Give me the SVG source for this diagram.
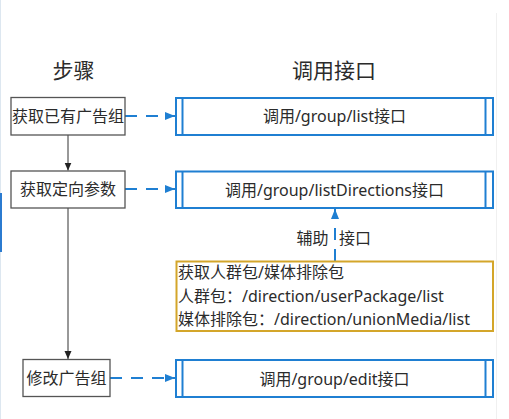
<svg xmlns="http://www.w3.org/2000/svg" width="509" height="419" viewBox="0 0 509 419">
<style>
text{font-family:"Noto Sans","Noto Sans CJK SC",sans-serif;fill:#2b2b2b;dominant-baseline:central}
.t{font-size:21px;text-anchor:middle}
.s{font-size:16px;text-anchor:middle}
.g{font-size:16px}
.step{fill:#fff;stroke:#555;stroke-width:1.3}
.api{fill:#fff;stroke:#1f7fd2;stroke-width:2}
.sub{stroke:#1f7fd2;stroke-width:2}
.aux{fill:#fff;stroke:#d4a62a;stroke-width:2}
.dash{stroke:#1f7fd2;stroke-width:2;stroke-dasharray:12 9;fill:none}
.solid{stroke:#333;stroke-width:1;fill:none}
</style>
<defs>
<marker id="ab" markerWidth="10" markerHeight="8" refX="10" refY="4" orient="auto" markerUnits="userSpaceOnUse"><path d="M0,0 L10,4 L0,8 Z" fill="#1f7fd2"/></marker>
<marker id="ak" markerWidth="8" markerHeight="8" refX="8" refY="4" orient="auto" markerUnits="userSpaceOnUse"><path d="M0,0.5 L8,4 L0,7.5 Z" fill="#222"/></marker>
</defs>
<rect width="509" height="419" fill="#fff"/>
<line x1="0.5" y1="0" x2="0.5" y2="419" stroke="#dde7f0" stroke-width="1"/>
<rect x="0" y="193" width="2" height="59" fill="#2b7bd0"/>
<line x1="496.5" y1="13" x2="496.5" y2="419" stroke="#f0f0f0" stroke-width="1"/>
<text class="t" x="73.5" y="70">步骤</text>
<text class="t" x="334" y="70">调用接口</text>
<g id="connectors">
<line class="solid" x1="68" y1="135" x2="68" y2="170.5" marker-end="url(#ak)"/>
<line class="solid" x1="68" y1="208" x2="68" y2="359" marker-end="url(#ak)"/>
<line class="dash" x1="125" y1="116" x2="175" y2="116" marker-end="url(#ab)"/>
<line class="dash" x1="125" y1="189" x2="175" y2="189" marker-end="url(#ab)"/>
<line class="dash" x1="110" y1="378" x2="175" y2="378" marker-end="url(#ab)"/>
<line class="dash" x1="335" y1="261" x2="335" y2="209" marker-end="url(#ab)" stroke-dasharray="14 5"/>
<text class="s" x="312.5" y="238">辅助</text>
<text class="s" x="355" y="238">接口</text>
</g>
<g id="step1"><rect class="step" x="11" y="97.5" width="114" height="37.5"/><text class="s" x="68" y="116">获取已有广告组</text></g>
<g id="step2"><rect class="step" x="11" y="171" width="114" height="37"/><text class="s" x="68" y="189">获取定向参数</text></g>
<g id="step3"><rect class="step" x="23" y="359.5" width="87" height="37"/><text class="s" x="66.5" y="378">修改广告组</text></g>
<g id="api1"><rect class="api" x="176" y="98" width="317" height="37"/><line class="sub" x1="182.5" y1="98" x2="182.5" y2="135"/><line class="sub" x1="485.5" y1="98" x2="485.5" y2="135"/><text class="s" x="334.5" y="116">调用/group/list接口</text></g>
<g id="api2"><rect class="api" x="176" y="171.5" width="317" height="36.5"/><line class="sub" x1="182.5" y1="171.5" x2="182.5" y2="208"/><line class="sub" x1="485.5" y1="171.5" x2="485.5" y2="208"/><text class="s" x="334.5" y="189.5">调用/group/listDirections接口</text></g>
<g id="aux"><rect class="aux" x="176.5" y="261.5" width="316.5" height="69.5"/>
<text class="g" x="178" y="272">获取人群包/媒体排除包</text>
<text class="g" x="178" y="295.5">人群包：/direction/userPackage/list</text>
<text class="g" x="178" y="318.5">媒体排除包：/direction/unionMedia/list</text></g>
<g id="api3"><rect class="api" x="176" y="360" width="317" height="37"/><line class="sub" x1="182.5" y1="360" x2="182.5" y2="397"/><line class="sub" x1="485.5" y1="360" x2="485.5" y2="397"/><text class="s" x="334.5" y="378.5">调用/group/edit接口</text></g>
</svg>
